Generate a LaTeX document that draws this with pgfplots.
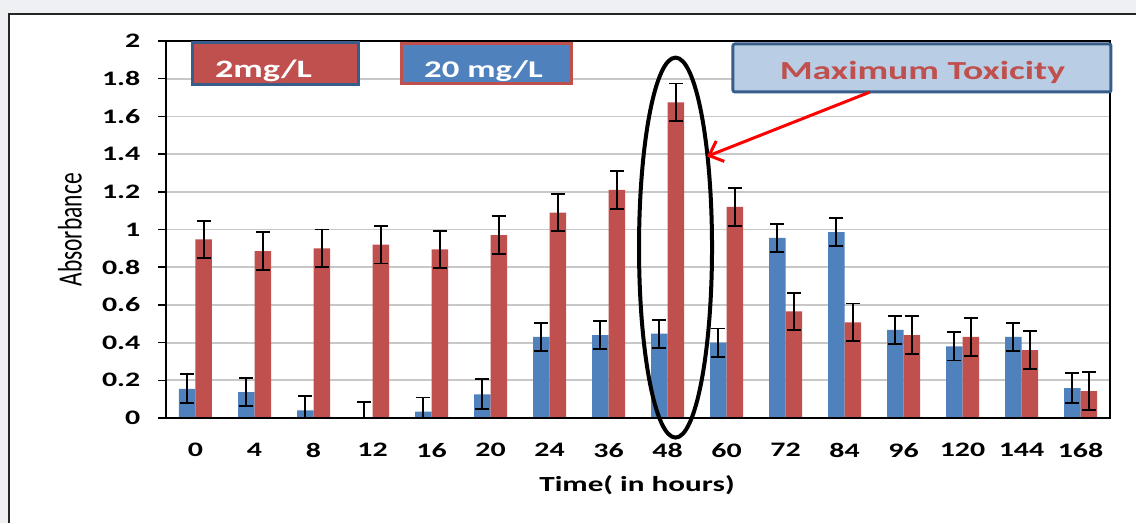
\documentclass[border=0pt]{standalone}
\usepackage{pgfplots}
\pgfplotsset{compat=1.18}
\usepackage{fontspec}
\setmainfont{Carlito}
\usetikzlibrary{arrows.meta}
\definecolor{barblue}{HTML}{4F81BD}
\definecolor{barred}{HTML}{C0504D}
\definecolor{boxblue}{HTML}{B9CDE5}
\definecolor{edgeblue}{HTML}{385D8A}
\definecolor{bggray}{HTML}{EEF0F3}
\definecolor{gridgray}{HTML}{C8C8C8}
\begin{document}
\begin{tikzpicture}
\useasboundingbox (0pt,0pt) rectangle (1136pt,523pt);
\fill[bggray] (0pt,0pt) rectangle (1136pt,523pt);
\fill[white] (9pt,0pt) rectangle (1136pt,509pt);
\draw[black!85, line width=2.5pt] (9pt,0pt) -- (9pt,509pt) -- (1136pt,509pt);
\begin{axis}[
  at={(166pt,105pt)}, anchor=south west,
  scale only axis, width=944pt, height=377pt,
  ybar=0pt, bar width=16.5pt,
  xmin=-0.5, xmax=15.5, ymin=0, ymax=2,
  xtick={0,1,2,3,4,5,6,7,8,9,10,11,12,13,14,15},
  xticklabels={0,4,8,12,16,20,24,36,48,60,72,84,96,120,144,168},
  ytick={0,0.2,0.4,0.6,0.8,1,1.2,1.4,1.6,1.8,2},
  yticklabels={0,0.2,0.4,0.6,0.8,1,1.2,1.4,1.6,1.8,2},
  ytick pos=left,
  ymajorgrids, grid style={gridgray, line width=1.8pt},
  x tick style={draw=none},
  y tick style={black, line width=1.5pt},
  tick align=outside, major tick length=8pt,
  xticklabel style={font=\fontsize{20.6}{24}\selectfont\bfseries, xscale=1.45, inner sep=0pt, anchor=north, yshift=-17pt},
  yticklabel style={font=\fontsize{20.6}{24}\selectfont\bfseries, xscale=1.45, inner sep=0pt, anchor=east, xshift=-12pt},
  xlabel={Time( in hours)},
  xlabel style={at={(axis description cs:0.499,-0.178)}, anchor=center, font=\fontsize{21.5}{24}\selectfont\bfseries, xscale=1.45},
  ylabel={Absorbance},
  ylabel style={at={(axis description cs:-0.1017,0.499)}, anchor=center, font=\fontsize{23.5}{26}\selectfont, yscale=1.45},
  clip=false,
]
\addplot[draw=none, fill=barblue,
  error bars/.cd, y dir=both, y explicit,
  error bar style={line width=1.8pt, black},
  error mark options={rotate=90, mark size=7pt, line width=1.8pt, black}]
coordinates {
 (0,0.155) += (0,0.08) -= (0,0.075)
 (1,0.137) += (0,0.075) -= (0,0.075)
 (2,0.04) += (0,0.075) -= (0,0.04)
 (3,0.005) += (0,0.08) -= (0,0.005)
 (4,0.034) += (0,0.075) -= (0,0.034)
 (5,0.126) += (0,0.08) -= (0,0.08)
 (6,0.43) += (0,0.075) -= (0,0.075)
 (7,0.44) += (0,0.075) -= (0,0.075)
 (8,0.447) += (0,0.075) -= (0,0.075)
 (9,0.40) += (0,0.075) -= (0,0.075)
 (10,0.956) += (0,0.075) -= (0,0.075)
 (11,0.986) += (0,0.075) -= (0,0.075)
 (12,0.468) += (0,0.075) -= (0,0.075)
 (13,0.38) += (0,0.075) -= (0,0.075)
 (14,0.43) += (0,0.075) -= (0,0.075)
 (15,0.158) += (0,0.08) -= (0,0.08)
};
\addplot[draw=none, fill=barred,
  error bars/.cd, y dir=both, y explicit,
  error bar style={line width=1.8pt, black},
  error mark options={rotate=90, mark size=7pt, line width=1.8pt, black}]
coordinates {
 (0,0.947) +- (0,0.1)
 (1,0.885) +- (0,0.1)
 (2,0.90) +- (0,0.1)
 (3,0.92) +- (0,0.1)
 (4,0.894) +- (0,0.1)
 (5,0.97) +- (0,0.1)
 (6,1.09) +- (0,0.1)
 (7,1.21) +- (0,0.1)
 (8,1.675) +- (0,0.1)
 (9,1.12) +- (0,0.1)
 (10,0.565) +- (0,0.1)
 (11,0.507) +- (0,0.1)
 (12,0.44) +- (0,0.1)
 (13,0.43) +- (0,0.1)
 (14,0.36) +- (0,0.1)
 (15,0.143) +- (0,0.1)
};
% plot-area frame
\draw[black, line width=2.8pt] (rel axis cs:0,0) rectangle (rel axis cs:1,1);
% text boxes
\node[draw=edgeblue, line width=3pt, fill=barred, minimum width=166pt, minimum height=42pt, inner sep=0pt] at (axis description cs:0.1165,0.939) {};
\node[anchor=base, text=white, font=\fontsize{25}{28}\selectfont\bfseries, xscale=1.45, inner sep=0pt] at (axis description cs:0.1033,0.9045) {2mg/L};
\node[draw=barred, line width=3pt, fill=barblue, minimum width=170pt, minimum height=40pt, inner sep=0pt] at (axis description cs:0.339,0.939) {};
\node[anchor=base, text=white, font=\fontsize{24}{28}\selectfont\bfseries, xscale=1.45, inner sep=0pt] at (axis description cs:0.3363,0.9045) {20 mg/L};
\node[draw=edgeblue, line width=3pt, fill=boxblue, rounded corners=2pt, minimum width=378pt, minimum height=48pt, inner sep=0pt] at (axis description cs:0.8008,0.9284) {};
\node[anchor=base, text=barred, font=\fontsize{26}{30}\selectfont\bfseries, xscale=1.45, inner sep=0pt] at (axis description cs:0.8013,0.898) {Maximum Toxicity};
% ellipse and arrow
\draw[black, line width=4pt] (axis cs:8.136,0.904) ellipse [x radius=36.5pt, y radius=190pt];
\draw[red, line width=3pt, -{Straight Barb[length=12pt,width=22pt,line width=3pt]}] (axis cs:11.43,1.729) -- (axis cs:8.67,1.388);
\end{axis}
\end{tikzpicture}
\end{document}
